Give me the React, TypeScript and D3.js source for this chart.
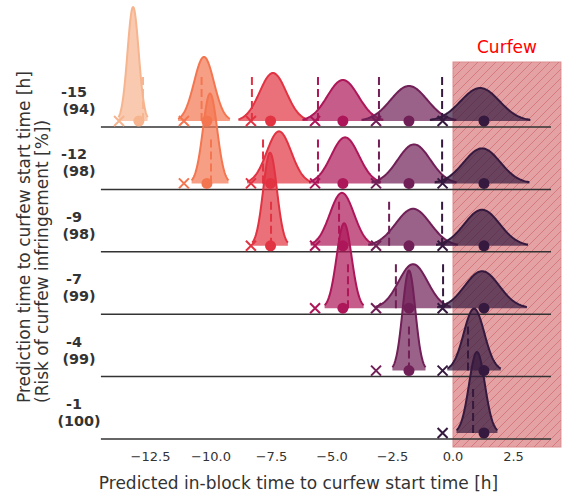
import React from "react";
import * as d3 from "d3";

// ---- data ----
const rowLabels = ["-15", "-12", "-9", "-7", "-4", "-1"];
const riskPct = [94, 98, 98, 99, 99, 100];
const palette = ["#f6b48f", "#f37651", "#e13342", "#ad1759", "#701f57", "#35193e"];
const xTicks = [-12.5, -10, -7.5, -5, -2.5, 0, 2.5];
const crossByColor = [-13.8, -11.12, -8.35, -5.7, -3.18, -0.43];
const dotByColor = [-12.98, -10.17, -7.54, -4.55, -1.82, 1.28];
const muRows = [
  [-13.22, -10.29, -7.44, -4.55, -1.82, 1.12],
  [-10.04, -7.19, -4.46, -1.61, 1.2],
  [-7.56, -4.59, -1.65, 1.2],
  [-4.5, -1.65, 1.2],
  [-1.82, 0.87],
  [0.99],
];
const sigmaRows = [
  [0.231, 0.411, 0.549, 0.642, 0.752, 0.798],
  [0.293, 0.506, 0.572, 0.675, 0.752],
  [0.283, 0.497, 0.712, 0.731],
  [0.31, 0.598, 0.712],
  [0.263, 0.425],
  [0.325],
];
const dashRows = [
  [-12.81, -10.39, -8.31, -5.58, -3.06, -0.45],
  [-10.0, -7.85, -5.58, -3.06, -0.45],
  [-7.52, -4.71, -2.64, -0.45],
  [-4.34, -2.36, -0.41],
  [-1.82, 0.62],
  [0.83],
];
const curfewRange = [0, 4.46];
const baselineRange = [-14.55, 4.05];
const dashHeight = 0.667; // in density units

const W = 569;
const H = 499;

const x = d3.scaleLinear().domain([-14.6, 4.5]).range([99.7, 561.9]);
const rowY = d3.scaleLinear().domain([0, 5]).range([127, 439]);
const dens = d3.scaleLinear().domain([0, 1]).range([0, 66]);
const ZERO_OFF = 6;

function pdf(v: number, mu: number, s: number) {
  return Math.exp(-0.5 * ((v - mu) / s) ** 2) / (s * Math.sqrt(2 * Math.PI));
}

const font = "'DejaVu Sans', sans-serif";
const textColor = "#333333";

export default function App() {
  const topY = 62;
  const botY = 447;
  return (
    <svg
      width={W}
      height={H}
      style={{ position: "absolute", left: 0, top: 0, background: "#fff" }}
      fontFamily={font}
    >
      <defs>
        <pattern id="hatch" patternUnits="userSpaceOnUse" width={9} height={9}>
          <path d="M0,9 L9,0 M-2,2 L2,-2 M7,11 L11,7" stroke="#d6797c" strokeWidth={1} />
        </pattern>
      </defs>
      {/* curfew band */}
      <rect
        x={x(curfewRange[0])}
        y={topY}
        width={x(curfewRange[1]) - x(curfewRange[0])}
        height={botY - topY}
        fill="#e4a2a4"
        stroke="#da8b8e"
        strokeWidth={1}
      />
      <rect
        x={x(curfewRange[0])}
        y={topY}
        width={x(curfewRange[1]) - x(curfewRange[0])}
        height={botY - topY}
        fill="url(#hatch)"
      />
      <text x={507} y={52.5} textAnchor="middle" fontSize={17} fill="#ff0000">
        Curfew
      </text>

      {muRows.map((mus, i) => {
        const base = rowY(i);
        const y0 = base - ZERO_OFF;
        return (
          <g key={i}>
            <line
              x1={x(baselineRange[0])}
              x2={x(baselineRange[1])}
              y1={base}
              y2={base}
              stroke="#333"
              strokeWidth={1.5}
            />
            <text fontSize={14.4} fontWeight="bold" fill={textColor} textAnchor="middle">
              <tspan x={74} y={base - 30}>{rowLabels[i]}</tspan>
              <tspan x={79} y={base - 13}>({riskPct[i]})</tspan>
            </text>
            {mus.map((mu, j) => {
              const s = sigmaRows[i][j];
              const c = palette[i + j];
              const pts = d3.range(0, 101).map((k) => mu - 2.6 * s + (5.2 * s * k) / 100);
              const area = d3
                .area<number>()
                .x((v) => x(v))
                .y0(y0)
                .y1((v) => y0 - dens(pdf(v, mu, s)))
                .curve(d3.curveLinear);
              const line = d3
                .line<number>()
                .x((v) => x(v))
                .y((v) => y0 - dens(pdf(v, mu, s)));
              return (
                <g key={j}>
                  <path d={area(pts) || ""} fill={c} fillOpacity={0.7} stroke="none" />
                  <path d={line(pts) || ""} fill="none" stroke={c} strokeWidth={2} />
                </g>
              );
            })}
            {mus.map((_, j) => {
              const c = palette[i + j];
              const dx = x(dashRows[i][j]);
              const cx = x(crossByColor[i + j]);
              const dtx = x(dotByColor[i + j]);
              return (
                <g key={"m" + j}>
                  <line
                    x1={dx}
                    x2={dx}
                    y1={y0}
                    y2={y0 - dens(dashHeight)}
                    stroke={c}
                    strokeWidth={2}
                    strokeDasharray="8,4"
                  />
                  <path
                    d={`M${cx - 5},${y0 - 5} L${cx + 5},${y0 + 5} M${cx - 5},${y0 + 5} L${cx + 5},${y0 - 5}`}
                    stroke={c}
                    strokeWidth={2}
                  />
                  <circle cx={dtx} cy={y0} r={5.5} fill={c} />
                </g>
              );
            })}
          </g>
        );
      })}

      {/* x ticks */}
      {xTicks.map((t) => (
        <text key={t} x={x(t)} y={460.5} textAnchor="middle" fontSize={13} fill={textColor}>
          {d3.format(".1f")(t).replace("-", "\u2212")}
        </text>
      ))}
      <text x={298.5} y={489} textAnchor="middle" fontSize={17} fill={textColor}>
        Predicted in-block time to curfew start time [h]
      </text>
      <text transform="translate(30,403) rotate(-90)" fontSize={17} fill={textColor}>
        Prediction time to curfew start time [h]
      </text>
      <text transform="translate(48,403) rotate(-90)" fontSize={17} fill={textColor}>
        (Risk of curfew infringement [%])
      </text>
    </svg>
  );
}
